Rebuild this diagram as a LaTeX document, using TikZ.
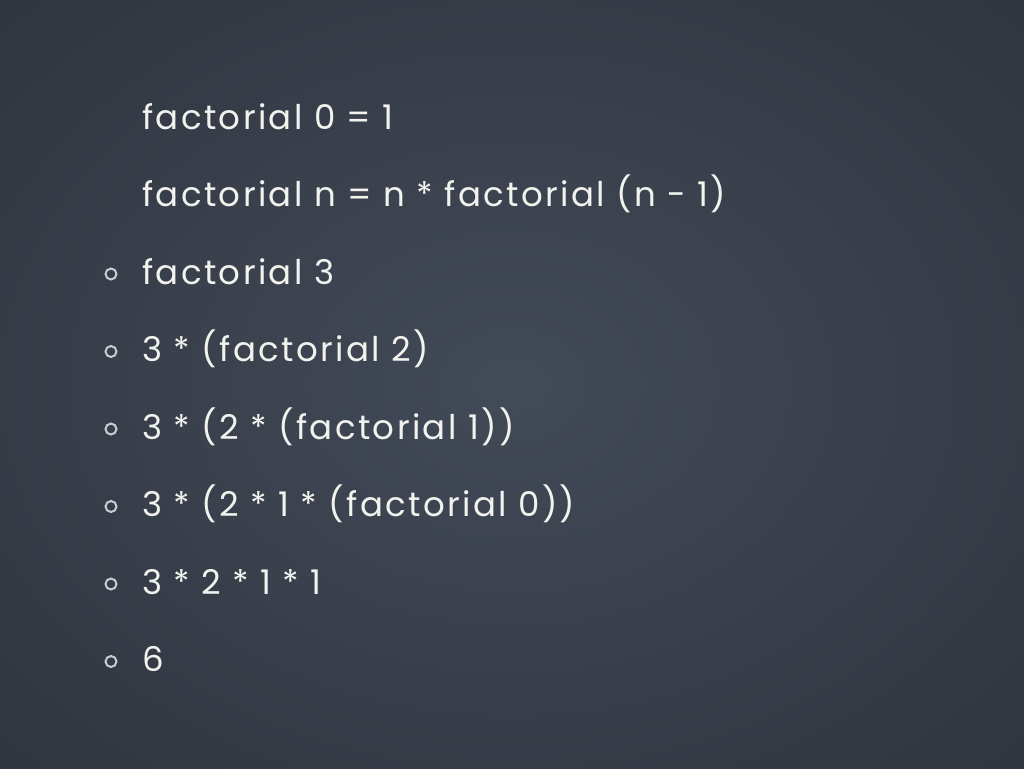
\documentclass[tikz,border=0pt]{standalone}
\usepackage{fontspec}
\setmainfont{Poppins}[LetterSpace=7]
\usetikzlibrary{positioning}
\definecolor{boardin}{HTML}{434A58}
\definecolor{boardout}{HTML}{30363F}
\definecolor{chalk}{HTML}{F2F2EE}
\definecolor{chalkdot}{HTML}{C9CCD0}
\newcommand{\chalksize}{\fontsize{34}{40}\selectfont}

\begin{document}
\begin{tikzpicture}[x=1pt, y=-1pt, node distance = 77.5pt,
    line/.style={text=chalk, anchor=base west, inner sep=0pt, font=\chalksize},
    dot/.style={draw=chalkdot, circle, line width=2pt, minimum size=11pt, inner sep=0pt}]
    \useasboundingbox (0,0) rectangle (1024,768);
    \shade[inner color=boardin, outer color=boardout] (-200,-150) rectangle (1224,918);
    \node[line] (l1) at (142,129) {factorial 0 = 1};
    \node[line, below=of l1.base west, anchor=base west] (l2) {factorial n = n * factorial (n - 1)};
    \foreach \i\j\t in {2/3/{factorial 3}, 3/4/{3 * (factorial 2)}, 4/5/{3 * (2 * (factorial 1))},
                        5/6/{3 * (2 * 1 * (factorial 0))}, 6/7/{3 * 2 * 1 * 1}, 7/8/{6}} {
      \node[line, below=of l\i.base west, anchor=base west] (l\j) {\t};
      \node[dot] (b\j) at ([shift={(-31,-10)}]l\j.base west) {};
    }
  \end{tikzpicture}
\end{document}
